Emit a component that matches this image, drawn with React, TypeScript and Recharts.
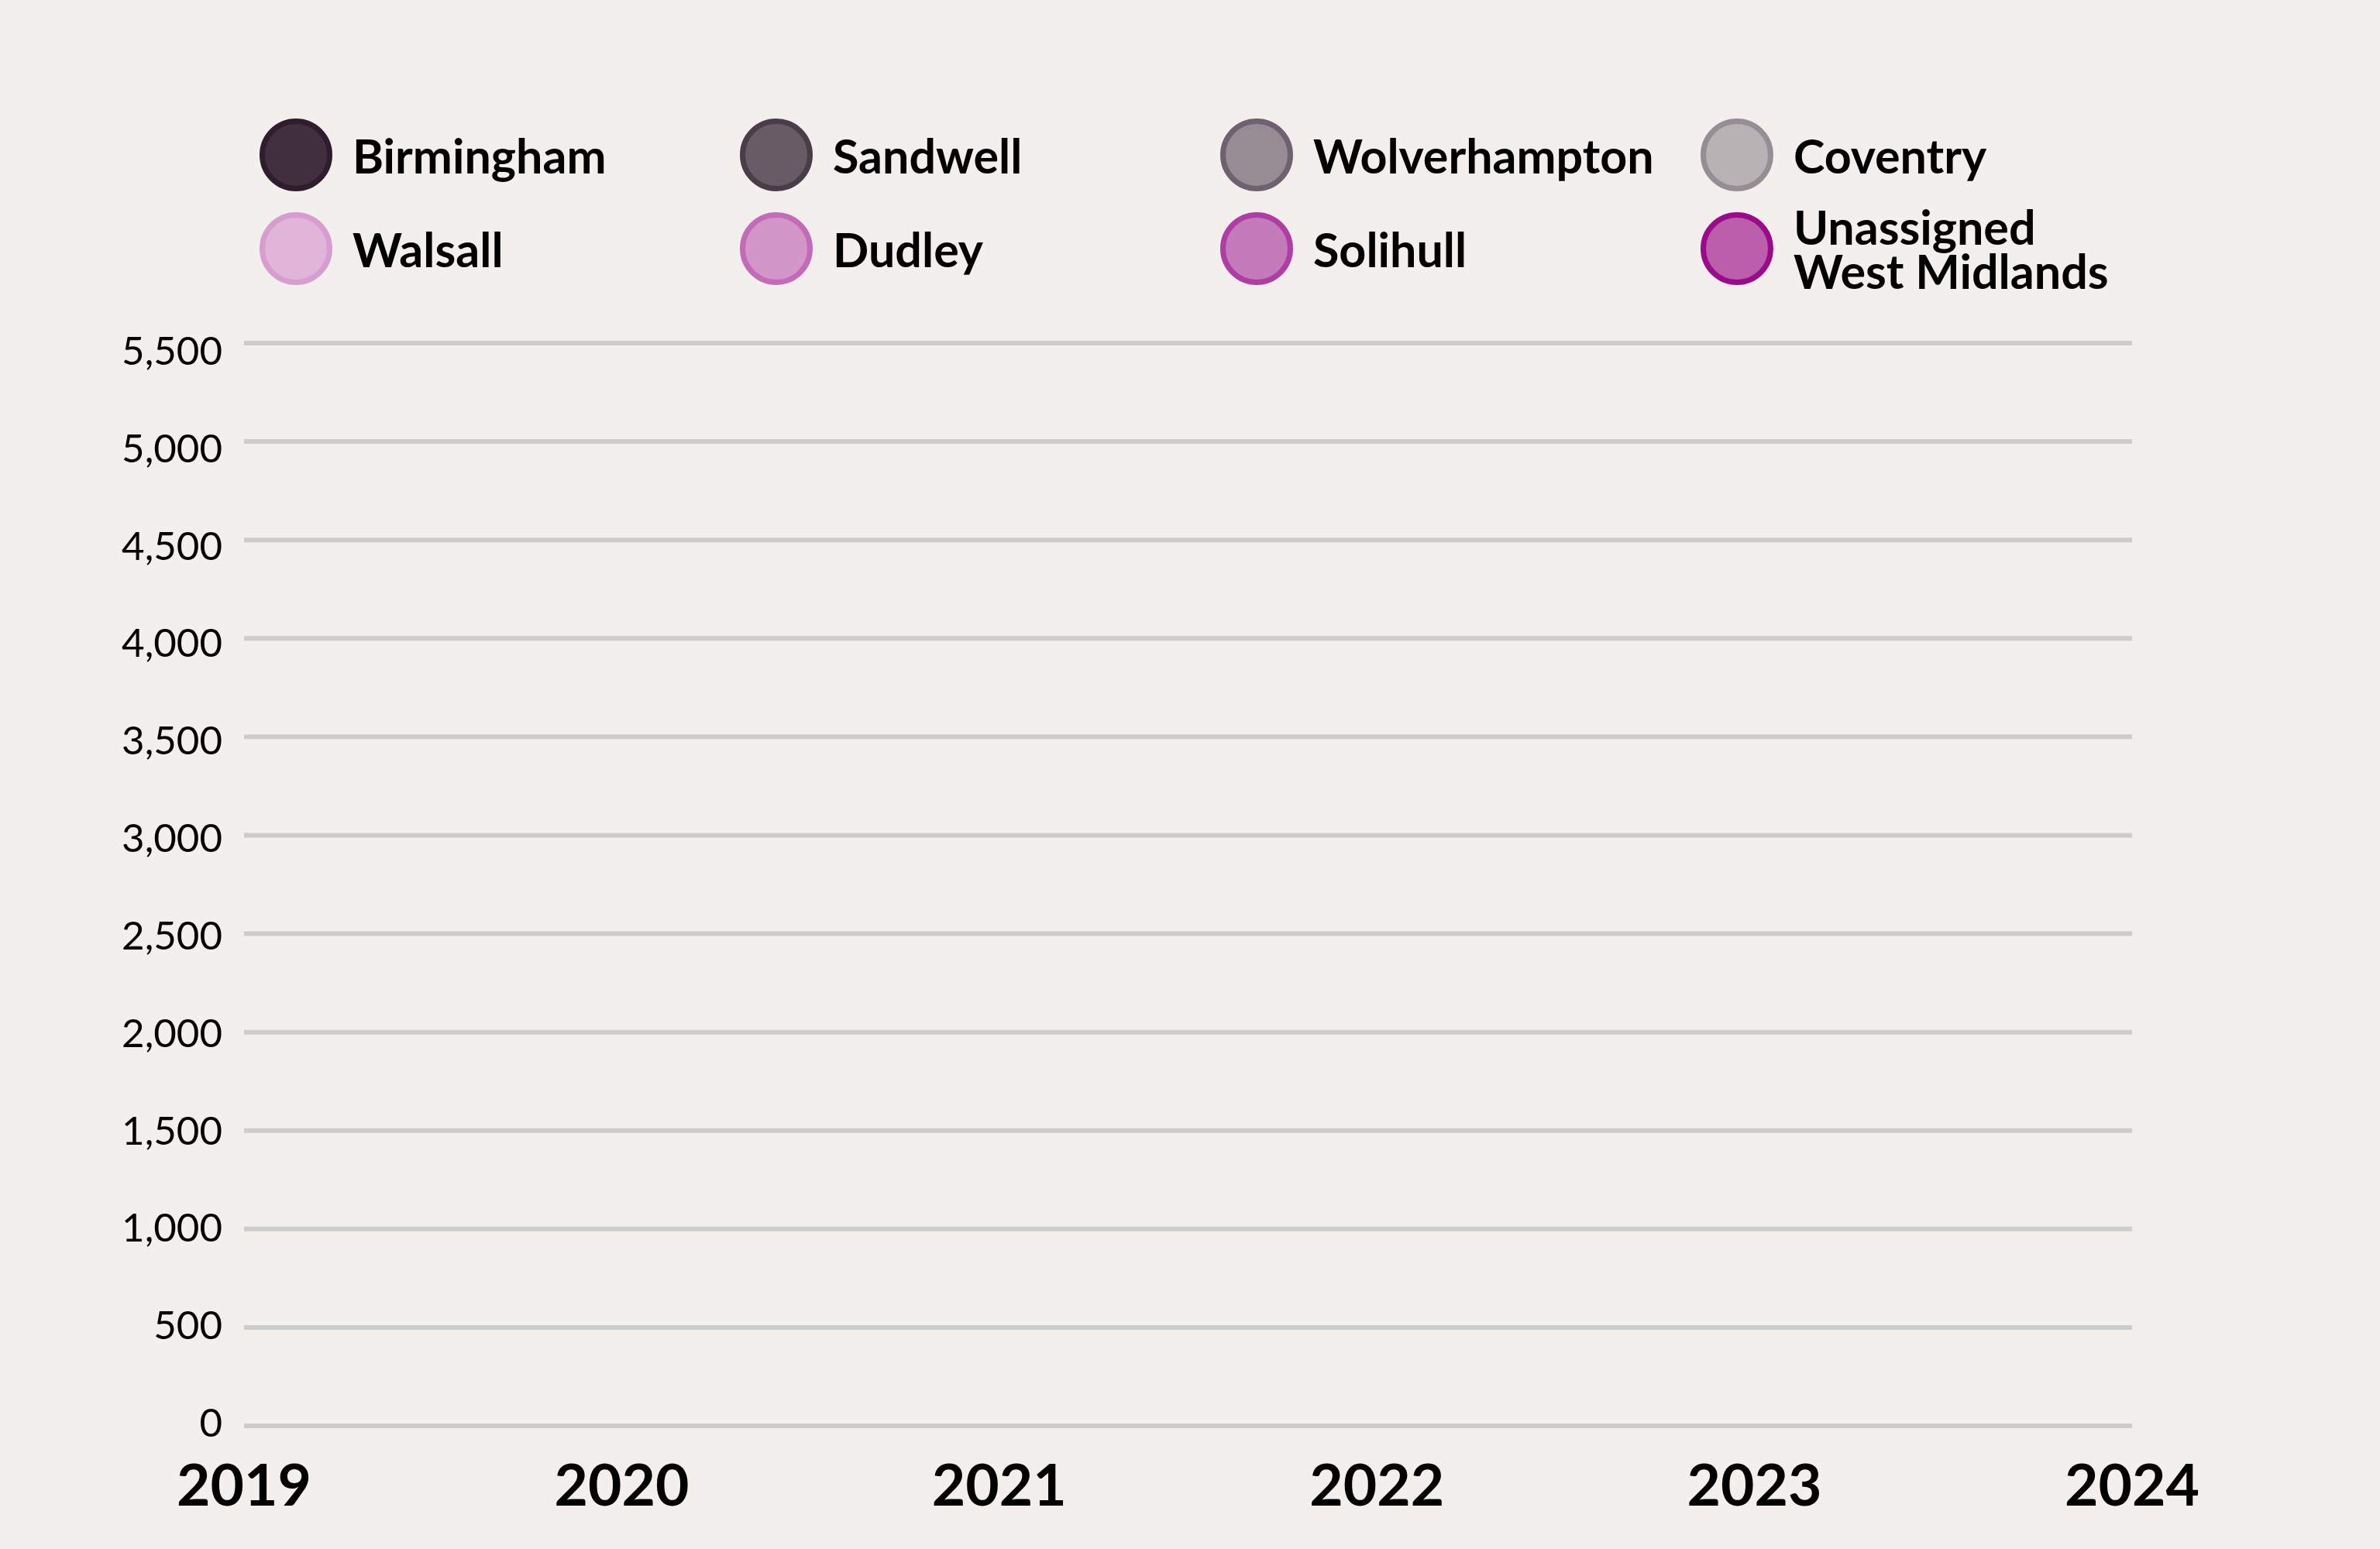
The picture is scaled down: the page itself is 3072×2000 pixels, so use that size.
import { Area, AreaChart, CartesianGrid, XAxis, YAxis } from "recharts";

const years = ["2019", "2020", "2021", "2022", "2023", "2024"];
const yTicks = [0, 500, 1000, 1500, 2000, 2500, 3000, 3500, 4000, 4500, 5000, 5500];

// nothing is plotted in the reference: every year is empty
const birmingham = [null, null, null, null, null, null];
const sandwell = [null, null, null, null, null, null];
const wolverhampton = [null, null, null, null, null, null];
const coventry = [null, null, null, null, null, null];
const walsall = [null, null, null, null, null, null];
const dudley = [null, null, null, null, null, null];
const solihull = [null, null, null, null, null, null];
const unassigned = [null, null, null, null, null, null];

const series = [
  { key: "birmingham", name: "Birmingham", label: "Birmingham", values: birmingham, fill: "#412e3f", stroke: "#2f1d2d" },
  { key: "sandwell", name: "Sandwell", label: "Sandwell", values: sandwell, fill: "#695b66", stroke: "#4b3c49" },
  { key: "wolverhampton", name: "Wolverhampton", label: "Wolverhampton", values: wolverhampton, fill: "#978c93", stroke: "#6f6170" },
  { key: "coventry", name: "Coventry", label: "Coventry", values: coventry, fill: "#b8b2b5", stroke: "#978d95" },
  { key: "walsall", name: "Walsall", label: "Walsall", values: walsall, fill: "#e1b4d9", stroke: "#d89dcf" },
  { key: "dudley", name: "Dudley", label: "Dudley", values: dudley, fill: "#d396c8", stroke: "#c36bb9" },
  { key: "solihull", name: "Solihull", label: "Solihull", values: solihull, fill: "#c57bba", stroke: "#b03da4" },
  {
    key: "unassigned",
    name: "Unassigned West Midlands",
    label: "Unassigned\nWest Midlands",
    values: unassigned,
    fill: "#bb5fac",
    stroke: "#9a0a8a",
  },
];

const data = years.map((year, i) => {
  const row: Record<string, string | number | null> = { year };
  series.forEach((s) => {
    row[s.key] = s.values[i];
  });
  return row;
});

const W = 3072;
const H = 2000;
const BG = "#f2efec";

function YTick({ x, y, payload }: any) {
  const v = Number(payload.value);
  return (
    <text
      x={x - 28}
      y={y + 14 + (v / 5500) * 14}
      textAnchor="end"
      fontFamily="Lato, 'Noto Sans', sans-serif"
      fontSize={51}
      fill="#000"
    >
      {v.toLocaleString("en-GB")}
    </text>
  );
}

function XTick({ x, y, payload }: any) {
  return (
    <text
      x={x}
      y={y + 103}
      textAnchor="middle"
      fontFamily="Lato, 'Noto Sans', sans-serif"
      fontWeight={700}
      fontSize={75}
      fill="#000"
    >
      {payload.value}
    </text>
  );
}

function LegendBlock() {
  return (
    <>
      {series.map((s, i) => {
        const cx = 382 + (i % 4) * 620;
        const cy = 200 + Math.floor(i / 4) * 121;
        return (
          <div key={s.key}>
            <div
              style={{
                position: "absolute",
                left: cx - 47,
                top: cy - 47,
                width: 94,
                height: 94,
                boxSizing: "border-box",
                borderRadius: "50%",
                background: s.fill,
                border: `7px solid ${s.stroke}`,
              }}
            />
            <div
              style={{
                position: "absolute",
                left: cx + 73,
                top: cy,
                transform: "translateY(-50%)",
                whiteSpace: "pre-line",
                fontFamily: "Lato, 'Noto Sans', sans-serif",
                fontWeight: 700,
                fontSize: 61,
                lineHeight: "57px",
                color: "#000",
              }}
            >
              {s.label}
            </div>
          </div>
        );
      })}
    </>
  );
}

export default function App() {
  return (
    <div style={{ position: "absolute", left: 0, top: 0, width: W, height: H, background: BG, overflow: "hidden" }}>
      <LegendBlock />
      <div style={{ position: "absolute", left: 0, top: 0 }}>
        <AreaChart width={W} height={H} data={data} margin={{ top: 443, right: 320, bottom: 0, left: 0 }}>
          <CartesianGrid vertical={false} stroke="#cccccc" strokeWidth={6} />
          <XAxis
            dataKey="year"
            axisLine={false}
            tickLine={false}
            tickSize={0}
            tickMargin={0}
            height={159}
            interval={0}
            tick={<XTick />}
          />
          <YAxis
            type="number"
            domain={[0, 5500]}
            ticks={yTicks}
            axisLine={false}
            tickLine={false}
            tickSize={0}
            tickMargin={0}
            width={315}
            interval={0}
            tick={<YTick />}
          />
          {series.map((s) => (
            <Area
              key={s.key}
              type="linear"
              dataKey={s.key}
              name={s.name}
              stackId="1"
              fill={s.fill}
              stroke={s.stroke}
              isAnimationActive={false}
            />
          ))}
        </AreaChart>
      </div>
    </div>
  );
}
